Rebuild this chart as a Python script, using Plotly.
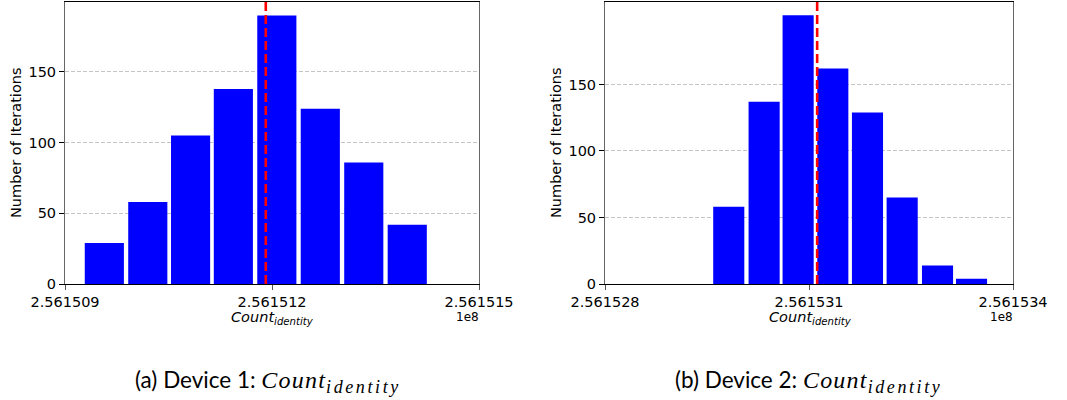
import plotly.graph_objects as go

# ---- data ----
dev1_bin_centers = [256150957, 256151020, 256151082, 256151144, 256151207, 256151270, 256151333, 256151396]
dev1_counts = [29, 58, 105, 138, 190, 124, 86, 42]
dev1_mean = 256151191

dev2_bin_centers = [256152982, 256153034, 256153084, 256153135, 256153186, 256153237, 256153289, 256153339]
dev2_counts = [58, 137, 202, 162, 129, 65, 14, 4]
dev2_mean = 256153112

dev1_xticks = [256150900, 256151200, 256151500]
dev1_xticklabels = ["2.561509", "2.561512", "2.561515"]
dev2_xticks = [256152800, 256153100, 256153400]
dev2_xticklabels = ["2.561528", "2.561531", "2.561534"]
y_ticks = [0, 50, 100, 150]
y_ticklabels = ["0", "50", "100", "150"]

MATH = ("<span style='font-family:Liberation Serif;font-style:italic;font-size:24px;letter-spacing:1.2px'>Count"
        "<sub><span style='font-size:18px;font-style:italic;letter-spacing:2.6px'>identity</span></sub></span>")
captions = ["(a) Device 1: " + MATH, "(b) Device 2: " + MATH]

W, H = 1067, 400
TICKFONT = dict(family="DejaVu Sans", size=14.5, color="black")

fig = go.Figure()

fig.add_trace(go.Bar(x=dev1_bin_centers, y=dev1_counts, marker=dict(color="#0000ff", line=dict(width=0)),
                     xaxis="x", yaxis="y", showlegend=False))
fig.add_trace(go.Bar(x=dev2_bin_centers, y=dev2_counts, marker=dict(color="#0000ff", line=dict(width=0)),
                     xaxis="x2", yaxis="y2", showlegend=False))

# mean lines
fig.add_trace(go.Scatter(x=[dev1_mean, dev1_mean], y=[0, 1], mode="lines", xaxis="x", yaxis="y3",
                         line=dict(color="red", width=2.6, dash="9px,4px"), showlegend=False))
fig.add_trace(go.Scatter(x=[dev2_mean, dev2_mean], y=[0, 1], mode="lines", xaxis="x2", yaxis="y4",
                         line=dict(color="red", width=2.6, dash="9px,4px"), showlegend=False))

def px_x(p):
    return p / W

def px_y(p):
    return 1 - p / H

dom1 = [px_x(65), px_x(479)]
dom2 = [px_x(605), px_x(1013)]
ydom = [px_y(284), px_y(2)]

xcommon = dict(showline=True, linecolor="black", linewidth=1, mirror=True, ticks="outside",
               ticklen=5, tickcolor="#555", tickwidth=1, showgrid=False, zeroline=False,
               tickfont=TICKFONT, automargin=False)
ycommon = dict(showline=True, linecolor="#666", linewidth=1, mirror=True, ticks="outside",
               ticklen=5, tickcolor="black", tickwidth=1, showgrid=True, gridcolor="#c4c4c4",
               gridwidth=1, griddash="4px,2px", zeroline=False, tickfont=TICKFONT,
               tickvals=y_ticks, ticktext=y_ticklabels, automargin=False)

fig.update_layout(
    width=W, height=H,
    margin=dict(l=0, r=0, t=0, b=0, autoexpand=False),
    plot_bgcolor="white", paper_bgcolor="white",
    bargap=0.085,
    xaxis=dict(domain=dom1, range=[256150900, 256151500], tickvals=dev1_xticks, ticktext=dev1_xticklabels,
               anchor="y", **xcommon),
    yaxis=dict(domain=ydom, range=[0, 199.5], anchor="x", **ycommon),
    xaxis2=dict(domain=dom2, range=[256152800, 256153400], tickvals=dev2_xticks, ticktext=dev2_xticklabels,
                anchor="y2", **xcommon),
    yaxis2=dict(domain=ydom, range=[0, 212], anchor="x2", **ycommon),
    yaxis3=dict(domain=ydom, range=[0, 1], overlaying="y", anchor="x", visible=False, automargin=False),
    yaxis4=dict(domain=ydom, range=[0, 1], overlaying="y2", anchor="x2", visible=False, automargin=False),
)

ann = []
# x-axis titles
for cx in [272, 810]:
    ann.append(dict(x=px_x(cx), y=px_y(318), xref="paper", yref="paper", xanchor="center", yanchor="middle",
                    text="<i>Count<sub>identity</sub></i>", showarrow=False,
                    font=dict(family="DejaVu Sans", size=14.5, color="black")))
# offset text
for cx in [467, 1001]:
    ann.append(dict(x=px_x(cx), y=px_y(317), xref="paper", yref="paper", xanchor="center", yanchor="middle",
                    text="1e8", showarrow=False, font=dict(family="DejaVu Sans", size=12, color="black")))
# y-axis titles
for cx in [16, 556]:
    ann.append(dict(x=px_x(cx), y=px_y(143), xref="paper", yref="paper", xanchor="center", yanchor="middle",
                    text="Number of Iterations", textangle=-90, showarrow=False,
                    font=dict(family="DejaVu Sans", size=14.5, color="black")))
# captions
for lx, txt in zip([134, 674], captions):
    ann.append(dict(x=px_x(lx), y=px_y(381), xref="paper", yref="paper", xanchor="left", yanchor="middle",
                    text=txt, showarrow=False, borderpad=0,
                    font=dict(family="Lato", size=22.5, color="black")))
fig.update_layout(annotations=ann)

fig.write_html("out.html", config={"displayModeBar": False},
               post_script="document.body.style.margin='0px';document.body.style.overflow='hidden';")
